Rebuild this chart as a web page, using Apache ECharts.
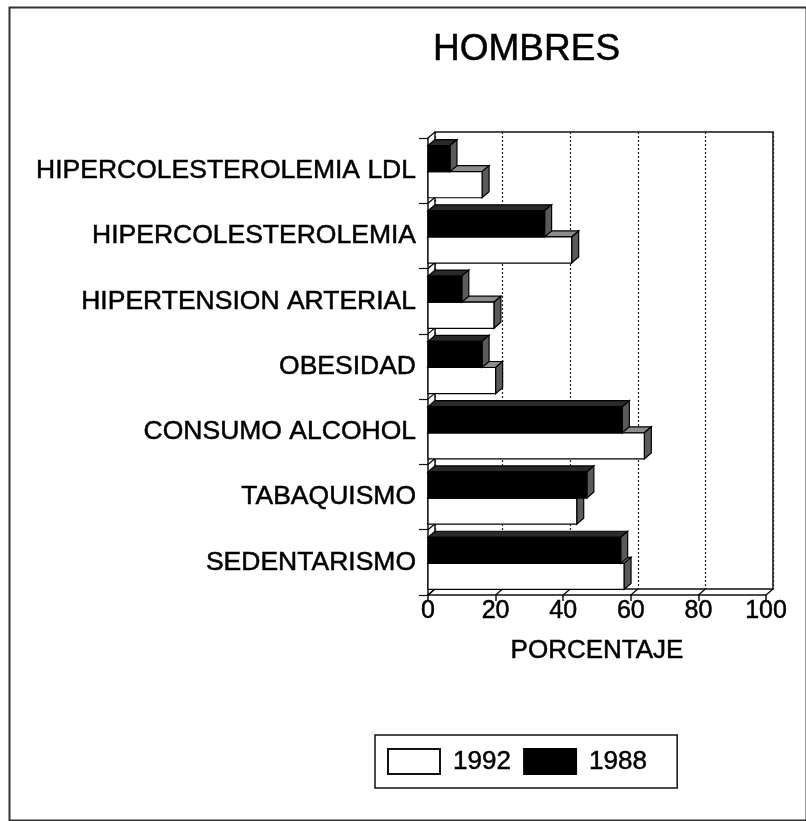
<!DOCTYPE html>
<html>
<head>
<meta charset="utf-8">
<script src="https://cdn.jsdelivr.net/npm/echarts@6/dist/echarts.min.js"></script>
<style>
  html, body { margin: 0; padding: 0; background: #fff; }
  #chart { width: 806px; height: 821px; }
</style>
</head>
<body>
<div id="chart"></div>
<script>
// datos (porcentaje)
var categorias = ['HIPERCOLESTEROLEMIA LDL', 'HIPERCOLESTEROLEMIA', 'HIPERTENSION ARTERIAL',
  'OBESIDAD', 'CONSUMO ALCOHOL', 'TABAQUISMO', 'SEDENTARISMO'];
var valores1992 = [16, 42.5, 19.5, 20, 64, 44, 58];
var valores1988 = [6.5, 34.5, 10, 16, 57.5, 47, 57];
var ticksX = [0, 20, 40, 60, 80, 100];

var FONT = 'Liberation Sans';
var DX = 7, DY = 6;   // profundidad del efecto 3D
// trazo fino alrededor del texto para imitar la tinta del original
var TINTA = { textBorderColor: '#000', textBorderWidth: 0.5 };

const chart = echarts.init(document.getElementById('chart'));

// barra con cara frontal, cara superior y cara lateral
function barra(arriba, relleno, techo) {
  return function (params, api) {
    var cat = api.value(1);
    var p0 = api.coord([0, cat]);
    var p1 = api.coord([api.value(0), cat]);
    var h = api.size([0, 1])[1] * 0.4;
    var x0 = p0[0], x1 = p1[0];
    var y0 = arriba ? p0[1] - h + 1 : p0[1] + 1;
    var y1 = y0 + h;
    var linea = { stroke: '#000', lineWidth: 1.2 };
    return {
      type: 'group',
      children: [
        { type: 'polygon', shape: { points: [[x0, y0], [x0 + DX, y0 - DY], [x1 + DX, y0 - DY], [x1, y0]] },
          style: Object.assign({ fill: techo }, linea) },
        { type: 'polygon', shape: { points: [[x1, y0], [x1 + DX, y0 - DY], [x1 + DX, y1 - DY], [x1, y1]] },
          style: Object.assign({ fill: '#5a5a5a' }, linea) },
        { type: 'rect', shape: { x: x0, y: y0, width: x1 - x0, height: h },
          style: Object.assign({ fill: relleno }, linea) }
      ]
    };
  };
}

// diagonales de la pared izquierda y del suelo
function decorado(params, api) {
  var cs = params.coordSys;
  var hijos = [];
  var banda = cs.height / categorias.length;
  for (var i = 0; i <= categorias.length; i++) {
    var y = cs.y + i * banda;
    hijos.push({ type: 'line', shape: { x1: cs.x, y1: y, x2: cs.x + DX, y2: y - DY },
      style: { stroke: '#000', lineWidth: 1.2 } });
  }
  ticksX.forEach(function (t) {
    var p = api.coord([t, 0]);
    var yb = cs.y + cs.height;
    hijos.push({ type: 'line', shape: { x1: p[0], y1: yb, x2: p[0] + DX, y2: yb - DY },
      style: { stroke: '#000', lineWidth: 1.2 } });
  });
  return { type: 'group', children: hijos };
}

const opt = {
  animation: false,
  backgroundColor: '#fff',
  textStyle: { fontFamily: FONT, color: '#000' },
  title: {
    text: 'HOMBRES',
    left: 428, top: 26,
    textStyle: Object.assign({ fontFamily: FONT, fontSize: 37, fontWeight: 'normal', color: '#000' }, TINTA)
  },
  legend: {
    data: ['1992', '1988'],
    left: 375, top: 735,
    padding: [13, 30, 13, 12],
    borderColor: '#111', borderWidth: 1.5,
    itemWidth: 52, itemHeight: 25, itemGap: 12,
    icon: 'rect',
    textStyle: Object.assign({ fontFamily: FONT, fontSize: 26, color: '#000', padding: [0, 0, 0, 8] }, TINTA)
  },
  grid: [
    { left: 428, top: 138, width: 338, height: 457 },
    { left: 428 + DX, top: 138 - DY, width: 338, height: 457, show: true,
      borderColor: '#111', borderWidth: 1.5, backgroundColor: 'transparent' }
  ],
  xAxis: [{
    gridIndex: 0, type: 'value', min: 0, max: 100, interval: 20,
    axisLine: { show: true, lineStyle: { color: '#111', width: 1.5 } },
    axisTick: { show: true, length: 6, lineStyle: { color: '#111', width: 1.5 } },
    axisLabel: Object.assign({ fontFamily: FONT, fontSize: 25, color: '#000', margin: 4 }, TINTA),
    splitLine: { show: false },
    name: 'PORCENTAJE', nameLocation: 'middle', nameGap: 43,
    nameTextStyle: Object.assign({ fontFamily: FONT, fontSize: 26, color: '#000' }, TINTA)
  }, {
    gridIndex: 1, type: 'value', min: 0, max: 100, interval: 20,
    axisLine: { show: false }, axisTick: { show: false }, axisLabel: { show: false },
    splitLine: { show: true, lineStyle: { color: '#222', width: 1.2, type: [2, 2] } }
  }],
  yAxis: [{
    gridIndex: 0, type: 'category', data: categorias, inverse: true,
    axisLine: { show: true, lineStyle: { color: '#111', width: 1.5 } },
    axisTick: { show: true, length: 9, lineStyle: { color: '#111', width: 1.2 } },
    axisLabel: Object.assign({ fontFamily: FONT, fontSize: 26.5, color: '#000', margin: 12 }, TINTA),
    splitLine: { show: false }
  }, {
    gridIndex: 1, type: 'category', data: categorias, inverse: true, show: false
  }],
  series: [{
    name: 'decorado', type: 'custom', xAxisIndex: 0, yAxisIndex: 0,
    renderItem: decorado, data: [[0, 0]], silent: true, z: 1
  }, {
    name: '1992', type: 'custom', xAxisIndex: 0, yAxisIndex: 0,
    itemStyle: { color: '#fff', borderColor: '#111', borderWidth: 1.5 },
    renderItem: barra(false, '#fff', '#8c8c8c'),
    data: valores1992.map(function (v, i) { return [v, i]; }),
    z: 2
  }, {
    name: '1988', type: 'custom', xAxisIndex: 0, yAxisIndex: 0,
    itemStyle: { color: '#000', borderColor: '#000', borderWidth: 1.5 },
    renderItem: barra(true, '#000', '#2a2a2a'),
    data: valores1988.map(function (v, i) { return [v, i]; }),
    z: 3
  }],
  graphic: [{
    type: 'rect', left: 7, top: 5, z: -10,
    shape: { width: 797, height: 813 },
    style: { fill: 'none', stroke: '#333', lineWidth: 2 }
  }]
};
chart.setOption(opt);

window.onresize = function () {
  chart.resize();
};
</script>
</body>
</html>
